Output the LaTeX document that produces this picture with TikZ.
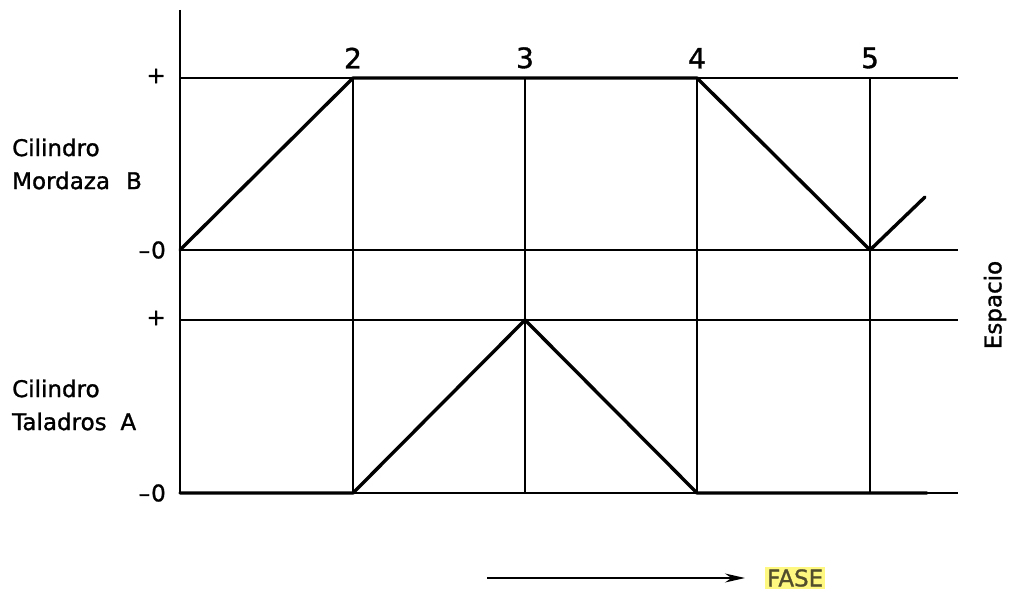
\documentclass[tikz,border=0pt]{standalone}
\usepackage{fontspec}
\setmainfont{DejaVu Sans}[UprightFeatures={FakeBold=1.2}]
\usetikzlibrary{positioning,arrows.meta}

\begin{document}
\begin{tikzpicture}[x=1pt,y=-1pt,font=\fontsize{23}{33}\selectfont,>={Stealth[length=20pt,width=9pt]},
  grid/.style={line width=1.5pt},
  trace/.style={line width=3.4pt,line join=round,line cap=round},
  lvl/.style={anchor=east,inner sep=0pt},
  lab/.style={anchor=west,align=left,inner sep=0pt}]
  \useasboundingbox (0,0) rectangle (1012,594);
  % axis and levels
  \coordinate (top) at (180,10);
  \foreach \y/\n in {78/Bp,250/Bz,320/Ap,493/Az}{
    \coordinate (\n) at (180,\y);
    \coordinate (\n e) at (958,\y);
    \draw[grid] (\n) -- (\n e);
  }
  \draw[line width=1.8pt] (top) -- (Az);
  \node[lvl] (bplus) at (166,76) {+};
  \node[lvl] (bzero) at (166,250) {\textendash\kern1pt 0};
  \node[lvl] (aplus) at (166,318) {+};
  \node[lvl] (azero) at (166,493) {\textendash\kern1pt 0};
  % phases
  \foreach \x/\k in {353/2,525/3,697/4,870/5}{
    \coordinate (t\k) at (\x,78);
    \coordinate (b\k) at (\x,493);
    \draw[grid] (t\k) -- (b\k);
    \node[font=\fontsize{28}{30}\selectfont,above=6pt of t\k] (f\k) {\k};
  }
  \node[lab] (cylB) at (12,164) {Cilindro\\Mordaza\hspace{0.7em}B};
  \node[lab] (cylA) at (12,405) {Cilindro\\Taladros\hspace{0.6em}A};
  \node[rotate=90,inner sep=0pt] (esp) at (995,305) {Espacio};
  % cylinder B
  \coordinate (b2) at (353,78); \coordinate (b4) at (697,78);
  \coordinate (b5) at (870,250); \coordinate (bend) at (925,197);
  \draw[trace] (Bz) -- (b2) -- (b4) -- (b5) -- (bend);
  % cylinder A
  \coordinate (a2) at (353,493); \coordinate (a3) at (525,320);
  \coordinate (a4) at (697,493); \coordinate (aend) at (927,493);
  \draw[trace] (Az) -- (a2) -- (a3) -- (a4) -- (aend);
  % phase arrow
  \coordinate (fstart) at (487,578);
  \node[fill=yellow!50,text=olive!45!black,inner sep=2pt,anchor=west] (fase) at (765,578) {FASE};
  \draw[->,line width=1.5pt,shorten >=20pt] (fstart) -- (fase.west);
\end{tikzpicture}
\end{document}
